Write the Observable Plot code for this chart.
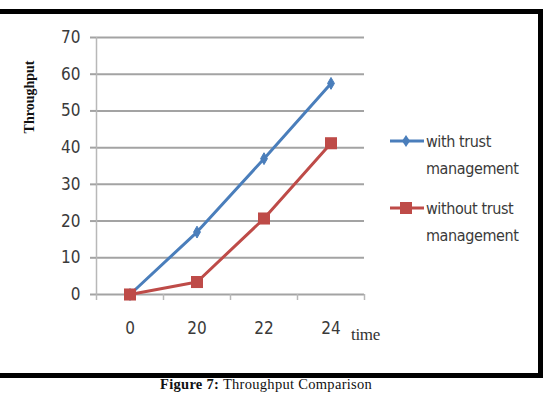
<!DOCTYPE html>
<html>
<head>
<meta charset="utf-8">
<script src="https://cdn.jsdelivr.net/npm/d3@7"></script>
<script src="https://cdn.jsdelivr.net/npm/@observablehq/plot@0.6"></script>
<style>
  html, body { margin: 0; padding: 0; background: #fff; }
  #wrap { position: relative; width: 547px; height: 394px; overflow: hidden; background: #fff; }
  #chart { position: absolute; left: 0; top: 0; }
  #frame { position: absolute; left: -5px; top: 9px; width: 538px; height: 359px; border: 5px solid #000; pointer-events: none; }
  .narrow { font-family: "DejaVu Sans", sans-serif; font-stretch: condensed; }
  #ylab { position: absolute; left: 30px; top: 97px; transform: translate(-50%, -50%) rotate(-90deg); font: bold 14px "Liberation Serif", "Times New Roman", serif; color: #111; white-space: nowrap; }
  #xlab { position: absolute; left: 351px; top: 325px; font: 17px "Liberation Serif", "Times New Roman", serif; color: #333; letter-spacing: -0.3px; }
  .leg { position: absolute; left: 388px; font-size: 16px; color: #3a3a3a; line-height: 27px; letter-spacing: -0.4px; }
  .leg svg { position: absolute; left: 0; top: 6px; }
  .leg span { display: block; margin-left: 38px; white-space: nowrap; }
  #caption { position: absolute; left: 160px; top: 377px; font: 14.5px/15px "Liberation Serif", "Times New Roman", serif; letter-spacing: 0.3px; color: #111; white-space: nowrap; }
</style>
</head>
<body>
<div id="wrap">
  <div id="chart"></div>
  <div id="frame"></div>
  <div id="ylab">Throughput</div>
  <div id="xlab">time</div>
  <div class="leg narrow" id="leg1" style="top:128px"></div>
  <div class="leg narrow" id="leg2" style="top:195px"></div>
  <div id="caption"><b>Figure 7:</b> Throughput Comparison</div>
</div>
<script>
const times = ["0", "20", "22", "24"];
const withTrust = [0, 17, 37, 57.5];
const withoutTrust = [0, 3.4, 20.7, 41.2];
const yTicks = [0, 10, 20, 30, 40, 50, 60, 70];
const seriesNames = ["with trust management", "without trust management"];
const colors = ["#4a7ebb", "#be4b48"];

const rows = [];
times.forEach((t, i) => {
  rows.push({series: seriesNames[0], idx: i + 0.5, time: t, value: withTrust[i]});
  rows.push({series: seriesNames[1], idx: i + 0.5, time: t, value: withoutTrust[i]});
});
const bounds = d3.range(times.length + 1);
const centers = times.map((t, i) => i + 0.5);
const gridColor = "#a3a3a3";
const textColor = "#3a3a3a";
const font = '"DejaVu Sans", sans-serif';

const chart = Plot.plot({
  width: 547,
  height: 394,
  marginLeft: 96,
  marginRight: 183,
  marginTop: 37,
  marginBottom: 100,
  style: {fontFamily: font, fontStretch: "condensed", background: "transparent", overflow: "visible"},
  x: {type: "linear", domain: [0, times.length]},
  y: {domain: [0, 70]},
  marks: [
    Plot.ruleY(yTicks, {stroke: gridColor, strokeWidth: 2}),
    Plot.ruleX([0], {stroke: "#b8b8b8", strokeWidth: 1.5}),
    Plot.axisY(yTicks, {tickSize: 6, tickPadding: 10, stroke: gridColor, strokeWidth: 2, fill: textColor, fontSize: 17, label: null}),
    Plot.axisX(bounds, {tickSize: 6, stroke: "#b8b8b8", strokeWidth: 1.5, tickFormat: () => "", label: null}),
    Plot.axisX(centers, {tickSize: 0, tickPadding: 27, fill: textColor, fontSize: 17, tickFormat: d => times[Math.round(d - 0.5)], label: null}),
    Plot.line(rows, {x: "idx", y: "value", z: "series", stroke: d => d.series === seriesNames[0] ? colors[0] : colors[1], strokeWidth: 3}),
    Plot.dot(rows.filter(d => d.series === seriesNames[0]), {x: "idx", y: "value", symbol: "diamond", r: 3.6, fill: colors[0], stroke: colors[0], strokeWidth: 1}),
    Plot.dot(rows.filter(d => d.series === seriesNames[1]), {x: "idx", y: "value", symbol: "square", r: 6.8, fill: colors[1], stroke: "none"})
  ]
});
document.getElementById("chart").appendChild(chart);

function legend(el, name, color, sym) {
  const parts = name.split(" ");
  const first = parts.slice(0, parts.length - 1).join(" ");
  const marker = sym === "square"
    ? `<rect x="12" y="1" width="12" height="12" fill="${color}"/>`
    : `<path d="M18,1 L22,7 L18,13 L14,7 Z" fill="${color}"/>`;
  el.innerHTML = `<svg width="38" height="14"><line x1="2" y1="7" x2="36" y2="7" stroke="${color}" stroke-width="3"/>${marker}</svg>` +
    `<span>${first}</span><span>${parts[parts.length - 1]}</span>`;
}
legend(document.getElementById("leg1"), seriesNames[0], colors[0], "diamond");
legend(document.getElementById("leg2"), seriesNames[1], colors[1], "square");
</script>
</body>
</html>
